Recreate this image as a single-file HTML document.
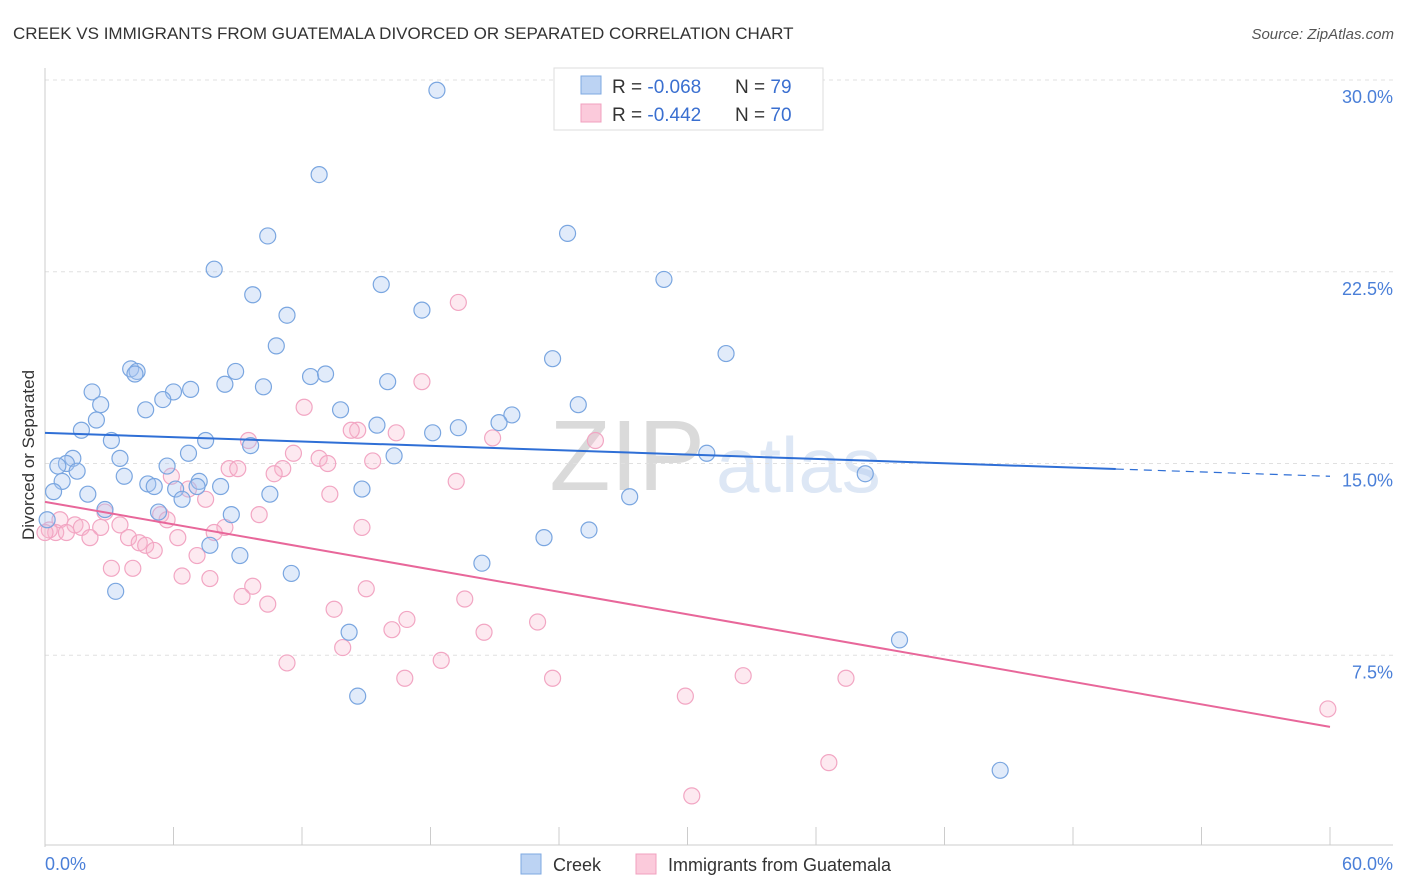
<!DOCTYPE html>
<html><head><meta charset="utf-8">
<style>
body{margin:0;background:#fff;font-family:"Liberation Sans",sans-serif;}
#wrap{position:relative;width:1406px;height:892px;overflow:hidden;}
svg text{font-family:"Liberation Sans",sans-serif;}
</style></head>
<body>
<div id="wrap">
<svg id="chart" width="1406" height="892">
<text x="13" y="39" font-size="17" fill="#333">CREEK VS IMMIGRANTS FROM GUATEMALA DIVORCED OR SEPARATED CORRELATION CHART</text>
<text x="1394" y="39" font-size="15" fill="#555" font-style="italic" text-anchor="end">Source: ZipAtlas.com</text>
<text x="0" y="0" transform="translate(34,455) rotate(-90)" font-size="17" fill="#333" text-anchor="middle">Divorced or Separated</text>
<text x="705" y="490" font-size="100" fill="#dadada" text-anchor="end" font-family="Liberation Serif">ZIP</text>
<text x="716" y="492" font-size="78" fill="#dde7f5">atlas</text>
<g id="grid"></g><g id="axes"></g><g id="marks"></g><g id="trends"></g>
<g>
<rect x="554" y="68" width="269" height="62" fill="#fff" stroke="#ddd"/>
<rect x="581" y="76" width="20" height="18" fill="#bcd3f3" stroke="#7ea8e2"/>
<rect x="581" y="104" width="20" height="18" fill="#fbcadb" stroke="#f0a0bf"/>
<text x="612" y="93" font-size="19" fill="#333">R = <tspan fill="#3a6fd0">-0.068</tspan></text>
<text x="735" y="93" font-size="19" fill="#333">N = <tspan fill="#3a6fd0">79</tspan></text>
<text x="612" y="121" font-size="19" fill="#333">R = <tspan fill="#3a6fd0">-0.442</tspan></text>
<text x="735" y="121" font-size="19" fill="#333">N = <tspan fill="#3a6fd0">70</tspan></text>
</g>
<g>
<rect x="521" y="854" width="20" height="20" fill="#bcd3f3" stroke="#7ea8e2"/>
<text x="553" y="871" font-size="18" fill="#333">Creek</text>
<rect x="636" y="854" width="20" height="20" fill="#fbcadb" stroke="#f0a0bf"/>
<text x="668" y="871" font-size="18" fill="#333">Immigrants from Guatemala</text>
</g>
</svg>
</div>
<script>
const creekX=[18.3,12.8,10.4,24.4,7.9,28.9,15.7,9.7,17.6,11.3,10.8,31.8,23.7,4.0,4.3,4.2,8.9,12.4,13.1,8.4,16.0,10.2,6.8,6.0,2.2,5.5,2.6,24.9,4.7,13.8,21.8,2.4,21.2,15.5,19.3,18.1,1.7,7.5,3.1,9.6,30.9,16.3,3.5,6.7,1.3,1.0,0.6,1.5,5.7,38.3,3.7,7.2,0.8,4.8,5.1,7.1,6.1,8.2,0.4,14.8,2.0,10.5,6.4,27.3,2.8,5.3,8.7,0.1,25.4,23.3,7.7,9.1,20.4,11.5,3.3,14.2,39.9,14.6,44.6];
const creekY=[29.6,26.3,23.9,24.0,22.6,22.2,22.0,21.6,21.0,20.8,19.6,19.3,19.1,18.7,18.6,18.5,18.6,18.4,18.5,18.1,18.2,18.0,17.9,17.8,17.8,17.5,17.3,17.3,17.1,17.1,16.9,16.7,16.6,16.5,16.4,16.2,16.3,15.9,15.9,15.7,15.4,15.3,15.2,15.4,15.2,15.0,14.9,14.7,14.9,14.6,14.5,14.3,14.3,14.2,14.1,14.1,14.0,14.1,13.9,14.0,13.8,13.8,13.6,13.7,13.2,13.1,13.0,12.8,12.4,12.1,11.8,11.4,11.1,10.7,10.0,8.4,8.1,5.9,3.0];
const guatX=[19.3,17.6,12.1,9.5,14.6,14.3,16.4,20.9,25.7,11.6,12.8,13.2,15.3,8.6,9.0,11.1,10.7,19.2,5.9,6.7,7.5,13.3,5.4,5.7,3.5,0.7,1.4,1.7,2.6,8.4,7.9,14.8,0.5,1.0,2.1,3.9,6.2,4.4,4.7,5.1,10.0,7.1,3.1,4.1,6.4,7.7,9.7,15.0,9.2,19.6,10.4,13.5,16.9,16.2,23.0,20.5,13.9,11.3,18.5,16.8,23.7,32.6,37.4,29.9,59.9,36.6,30.2,2.8,0.2,0.0];
const guatY=[21.3,18.2,17.2,15.9,16.3,16.3,16.2,16.0,15.9,15.4,15.2,15.0,15.1,14.8,14.8,14.8,14.6,14.3,14.5,14.0,13.6,13.8,13.0,12.8,12.6,12.8,12.6,12.5,12.5,12.5,12.3,12.5,12.3,12.3,12.1,12.1,12.1,11.9,11.8,11.6,13.0,11.4,10.9,10.9,10.6,10.5,10.2,10.1,9.8,9.7,9.5,9.3,8.9,8.5,8.8,8.4,7.8,7.2,7.3,6.6,6.6,6.7,6.6,5.9,5.4,3.3,2.0,13.1,12.4,12.3];
const trendStart=[16.2,13.5];
const trendEnd=[14.5,4.7];
const yTicks=[7.5,15.0,22.5,30.0];
const yTickLabels=["7.5%","15.0%","22.5%","30.0%"];
const xTicks=[0,6,12,18,24,30,36,42,48,54,60];

const NS="http://www.w3.org/2000/svg";
const X0=45,X1=1330,Y0=847,YT=80;
const sx=v=>X0+(v/60)*(X1-X0);
const sy=v=>Y0-(v/30)*(Y0-YT);
function mk(tag,attrs,parent){const e=document.createElementNS(NS,tag);for(const k in attrs)e.setAttribute(k,attrs[k]);parent.appendChild(e);return e;}
const grid=document.getElementById('grid'),axes=document.getElementById('axes'),marks=document.getElementById('marks'),trends=document.getElementById('trends');
yTicks.forEach((t,i)=>{
 const l=mk('line',{x1:X0,x2:1393,y1:sy(t),y2:sy(t),stroke:'#e0e0e0','stroke-dasharray':'4,4'},grid);
 
 
 const tx=mk('text',{x:1393,y:sy(t)+23,'font-size':18,fill:'#4a7fd8','text-anchor':'end'},axes);
 tx.textContent=yTickLabels[i];
 
 
});
const ax=mk('line',{x1:X0,x2:X0,y1:68,y2:Y0,stroke:'#ccc'},axes);


const bx=mk('line',{x1:X0,x2:1393,y1:Y0-2,y2:Y0-2,stroke:'#ccc'},axes);


xTicks.forEach(t=>{
 const l=mk('line',{x1:sx(t),x2:sx(t),y1:Y0-20,y2:Y0-2,stroke:'#ccc'},axes);
 
 
});
const xl0=mk('text',{x:45,y:870,'font-size':18,fill:'#4a7fd8'},axes);xl0.textContent='0.0%';


const xl1=mk('text',{x:1393,y:870,'font-size':18,fill:'#4a7fd8','text-anchor':'end'},axes);xl1.textContent='60.0%';


function dots(xs,ys,fill,stroke,name){xs.forEach((x,i)=>{
 const c=mk('circle',{cx:sx(x),cy:sy(ys[i]),r:8,fill:fill,stroke:stroke,'stroke-width':1.2},marks);
 
 
});}
dots(guatX,guatY,'rgba(248,182,206,0.3)','#f2a6c3','guatemala-point');
dots(creekX,creekY,'rgba(168,198,240,0.35)','#7aa6e0','creek-point');
const bEnd=50, bYAt=trendStart[0]+(trendEnd[0]-trendStart[0])*bEnd/60;
const t1=mk('line',{x1:sx(0),y1:sy(trendStart[0]),x2:sx(bEnd),y2:sy(bYAt),stroke:'#2f6fd6','stroke-width':2},trends);


const t1d=mk('line',{x1:sx(bEnd),y1:sy(bYAt),x2:sx(60),y2:sy(trendEnd[0]),stroke:'#2f6fd6','stroke-width':1.2,'stroke-dasharray':'8,6'},trends);


const t2=mk('line',{x1:sx(0),y1:sy(trendStart[1]),x2:sx(60),y2:sy(trendEnd[1]),stroke:'#e8679a','stroke-width':2},trends);


</script>
</body></html>
